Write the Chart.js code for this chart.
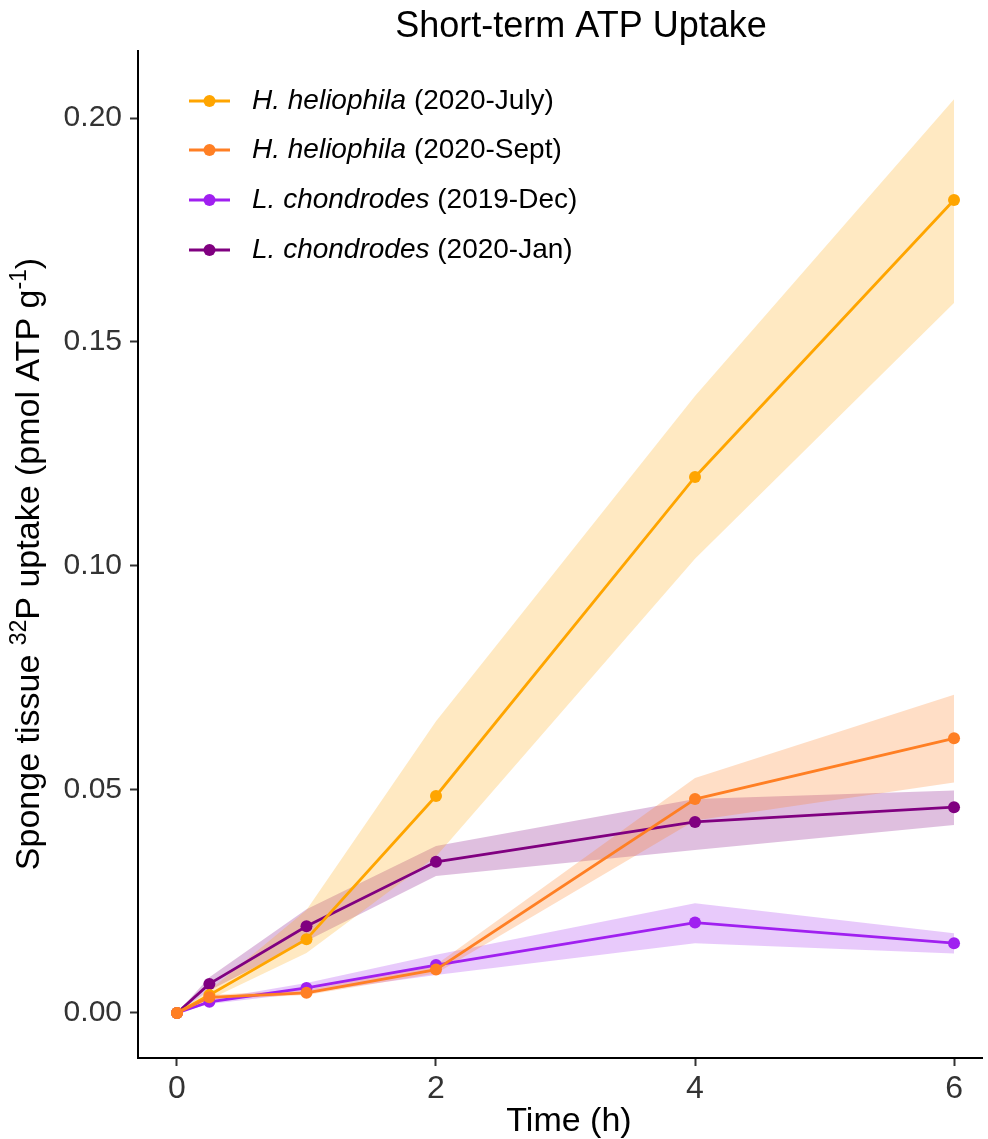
<!DOCTYPE html>
<html>
<head>
<meta charset="utf-8">
<script src="https://cdn.jsdelivr.net/npm/chart.js@4/dist/chart.umd.min.js"></script>
<style>
  html, body { margin: 0; padding: 0; background: #fff; }
  #wrap { width: 988px; height: 1139px; }
</style>
</head>
<body>
<div id="wrap"><canvas id="atp" width="988" height="1139"></canvas></div>
<script>
// sampling times (h)
const times = [0, 0.25, 1, 2, 4, 6];

// H. heliophila, July 2020
const julyMean = [0, 0.004, 0.0165, 0.0485, 0.1198, 0.1817];
const julyLow  = [0, 0.003, 0.0134, 0.035, 0.1015, 0.1587];
const julyHigh = [0, 0.005, 0.023, 0.0652, 0.1379, 0.2042];

// H. heliophila, Sept 2020
const septMean = [0, 0.0035, 0.0045, 0.0097, 0.0478, 0.0614];
const septLow  = [0, 0.003, 0.004, 0.0088, 0.043, 0.0515];
const septHigh = [0, 0.004, 0.0052, 0.0108, 0.0525, 0.0711];

// L. chondrodes, Dec 2019
const decMean = [0, 0.0025, 0.0056, 0.0107, 0.0202, 0.0156];
const decLow  = [0, 0.002, 0.0045, 0.0085, 0.0156, 0.0133];
const decHigh = [0, 0.003, 0.0067, 0.013, 0.0245, 0.0178];

// L. chondrodes, Jan 2020
const janMean = [0, 0.0065, 0.0194, 0.0338, 0.0427, 0.046];
const janLow  = [0, 0.005, 0.0161, 0.0306, 0.0364, 0.042];
const janHigh = [0, 0.008, 0.0232, 0.0373, 0.0478, 0.0497];

const xTicks = [0, 2, 4, 6];
const yTicks = [0, 0.05, 0.10, 0.15, 0.20];

const series = [
  { species: "H. heliophila", date: "(2020-July)", color: "#FFA500", fill: "rgba(255,165,0,0.24)",  mean: julyMean, lo: julyLow, hi: julyHigh, order: 2 },
  { species: "H. heliophila", date: "(2020-Sept)", color: "#FF7F24", fill: "rgba(255,127,36,0.26)", mean: septMean, lo: septLow, hi: septHigh, order: 1 },
  { species: "L. chondrodes", date: "(2019-Dec)",  color: "#A020F0", fill: "rgba(160,32,240,0.24)", mean: decMean,  lo: decLow,  hi: decHigh,  order: 3 },
  { species: "L. chondrodes", date: "(2020-Jan)",  color: "#800080", fill: "rgba(128,0,128,0.25)",  mean: janMean,  lo: janLow,  hi: janHigh,  order: 4 },
];

const pts = (ys) => times.map((t, i) => ({ x: t, y: ys[i] }));

const datasets = [];
series.forEach((s) => {
  // ribbon: upper edge, then lower edge filled up to it
  const hiIndex = datasets.length;
  datasets.push({
    data: pts(s.hi), borderWidth: 0, pointRadius: 0, fill: false,
    borderColor: "rgba(0,0,0,0)", order: 10 + s.order,
  });
  datasets.push({
    data: pts(s.lo), borderWidth: 0, pointRadius: 0,
    borderColor: "rgba(0,0,0,0)", backgroundColor: s.fill,
    fill: { target: hiIndex }, order: 10 + s.order,
  });
});
series.forEach((s) => {
  datasets.push({
    data: pts(s.mean), borderColor: s.color, backgroundColor: s.color,
    borderWidth: 2.8, pointRadius: 6, pointBorderWidth: 0,
    pointBackgroundColor: s.color, fill: false, tension: 0, order: s.order,
  });
});

const FONT = '"Liberation Sans", Arial, sans-serif';

const decor = {
  id: "decor",
  afterDraw(chart) {
    const ctx = chart.ctx;
    ctx.save();
    ctx.fillStyle = "#000";

    // title
    ctx.font = `36px ${FONT}`;
    ctx.textAlign = "center";
    ctx.textBaseline = "alphabetic";
    ctx.fillText("Short-term ATP Uptake", 581, 37);

    // x axis title
    ctx.font = `34px ${FONT}`;
    ctx.fillText("Time (h)", 569, 1131);

    // y axis title with superscripts
    const parts = [
      ["Sponge tissue ", false],
      ["32", true],
      ["P uptake (pmol ATP g", false],
      ["-1", true],
      [")", false],
    ];
    const big = `34px ${FONT}`, small = `23px ${FONT}`;
    let total = 0;
    parts.forEach(([t, sup]) => { ctx.font = sup ? small : big; total += ctx.measureText(t).width; });
    ctx.translate(39, 564);
    ctx.rotate(-Math.PI / 2);
    ctx.textAlign = "left";
    let x = -total / 2;
    parts.forEach(([t, sup]) => {
      ctx.font = sup ? small : big;
      ctx.fillText(t, x, sup ? -13 : 0);
      x += ctx.measureText(t).width;
    });
    ctx.setTransform(1, 0, 0, 1, 0, 0);

    // legend
    const rows = [101, 150, 200, 250];
    series.forEach((s, i) => {
      const y = rows[i];
      ctx.strokeStyle = s.color;
      ctx.lineWidth = 3;
      ctx.beginPath();
      ctx.moveTo(189, y);
      ctx.lineTo(230, y);
      ctx.stroke();
      ctx.fillStyle = s.color;
      ctx.beginPath();
      ctx.arc(209.5, y, 6, 0, Math.PI * 2);
      ctx.fill();

      ctx.fillStyle = "#000";
      ctx.textBaseline = "middle";
      ctx.textAlign = "left";
      ctx.font = `italic 28px ${FONT}`;
      ctx.fillText(s.species, 252, y);
      const w = ctx.measureText(s.species + " ").width;
      ctx.font = `28px ${FONT}`;
      ctx.fillText(s.date, 252 + w, y);
    });
    ctx.restore();
  },
};

new Chart(document.getElementById("atp"), {
  type: "line",
  data: { datasets },
  options: {
    responsive: false,
    animation: false,
    layout: { padding: { top: 51, left: 0, right: 0, bottom: 0 } },
    plugins: { legend: { display: false }, tooltip: { enabled: false }, title: { display: false } },
    scales: {
      x: {
        type: "linear",
        min: -0.301,
        max: 6.216,
        afterBuildTicks: (scale) => { scale.ticks = xTicks.map((v) => ({ value: v })); },
        afterFit: (scale) => { scale.height = 81; },
        grid: { drawOnChartArea: false, drawTicks: true, tickLength: 8, tickColor: "#333", tickWidth: 2 },
        border: { display: true, color: "#000", width: 2 },
        ticks: { color: "#333", padding: 4, font: { size: 32, family: FONT }, maxRotation: 0 },
      },
      y: {
        min: -0.01006,
        max: 0.215,
        afterBuildTicks: (scale) => { scale.ticks = yTicks.map((v) => ({ value: v })); },
        afterFit: (scale) => { scale.width = 138; },
        grid: { drawOnChartArea: false, drawTicks: true, tickLength: 8, tickColor: "#333", tickWidth: 2 },
        border: { display: true, color: "#000", width: 2 },
        ticks: {
          color: "#333", padding: 8, font: { size: 30, family: FONT },
          callback: (v) => Number(v).toFixed(2),
        },
      },
    },
  },
  plugins: [decor],
});
</script>
</body>
</html>
